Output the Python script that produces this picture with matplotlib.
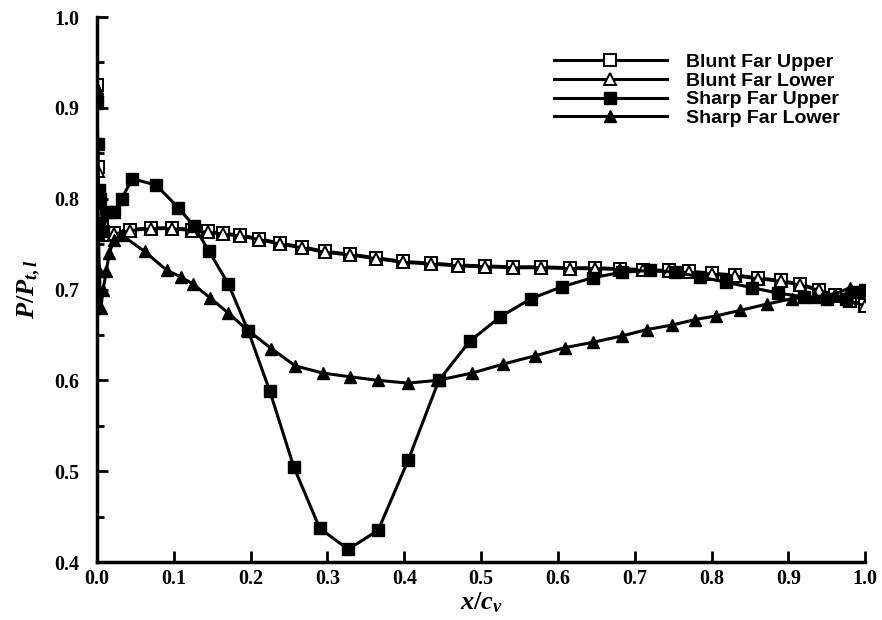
import matplotlib.pyplot as plt
from matplotlib.ticker import MultipleLocator

plt.rcParams["font.family"] = "Liberation Serif"
plt.rcParams["font.weight"] = "bold"
plt.rcParams["mathtext.fontset"] = "custom"
plt.rcParams["mathtext.it"] = "Liberation Serif:italic:bold"
plt.rcParams["mathtext.rm"] = "Liberation Serif:bold"

# blunt leading edge, far plane
blunt_upper_x = [0.0, 0.001, 0.003, 0.006, 0.012, 0.022, 0.043, 0.070, 0.097, 0.124,
                 0.145, 0.164, 0.186, 0.211, 0.238, 0.267, 0.297, 0.329, 0.363, 0.398,
                 0.435, 0.470, 0.505, 0.542, 0.578, 0.616, 0.648, 0.681, 0.711, 0.744,
                 0.770, 0.800, 0.830, 0.860, 0.890, 0.915, 0.940, 0.960, 0.980, 1.0]
blunt_upper_y = [0.925, 0.835, 0.790, 0.770, 0.762, 0.762, 0.766, 0.768, 0.768, 0.766,
                 0.764, 0.762, 0.760, 0.756, 0.751, 0.747, 0.742, 0.739, 0.735, 0.731,
                 0.729, 0.727, 0.726, 0.725, 0.725, 0.724, 0.724, 0.723, 0.722, 0.721,
                 0.720, 0.718, 0.716, 0.713, 0.710, 0.706, 0.700, 0.694, 0.688, 0.683]
blunt_lower_x = blunt_upper_x
blunt_lower_y = [0.920, 0.830, 0.785, 0.768, 0.760, 0.761, 0.765, 0.767, 0.767, 0.765,
                 0.763, 0.761, 0.759, 0.755, 0.750, 0.746, 0.741, 0.738, 0.734, 0.730,
                 0.728, 0.726, 0.725, 0.724, 0.724, 0.723, 0.723, 0.722, 0.721, 0.720,
                 0.719, 0.717, 0.715, 0.712, 0.709, 0.705, 0.699, 0.693, 0.687, 0.682]

# sharp leading edge, far plane
sharp_upper_x = [0.0, 0.001, 0.002, 0.004, 0.008, 0.014, 0.022, 0.032, 0.046, 0.077,
                 0.106, 0.126, 0.146, 0.171, 0.197, 0.225, 0.256, 0.290, 0.327, 0.366,
                 0.405, 0.445, 0.485, 0.525, 0.565, 0.605, 0.645, 0.683, 0.720, 0.753,
                 0.785, 0.819, 0.853, 0.887, 0.920, 0.950, 0.975, 0.990, 1.0]
sharp_upper_y = [0.905, 0.860, 0.810, 0.800, 0.765, 0.785, 0.785, 0.800, 0.822, 0.815,
                 0.790, 0.770, 0.742, 0.706, 0.654, 0.588, 0.505, 0.437, 0.414, 0.435,
                 0.512, 0.600, 0.643, 0.670, 0.690, 0.703, 0.713, 0.719, 0.721, 0.719,
                 0.714, 0.708, 0.702, 0.696, 0.692, 0.690, 0.690, 0.697, 0.700]
sharp_lower_x = [0.0, 0.0005, 0.001, 0.002, 0.003, 0.005, 0.008, 0.012, 0.016, 0.022,
                 0.032, 0.062, 0.091, 0.109, 0.125, 0.147, 0.171, 0.195, 0.227, 0.258,
                 0.294, 0.329, 0.366, 0.405, 0.443, 0.488, 0.529, 0.570, 0.609, 0.646,
                 0.684, 0.716, 0.749, 0.779, 0.806, 0.837, 0.872, 0.905, 0.935, 0.960,
                 0.980, 1.0]
sharp_lower_y = [0.922, 0.862, 0.800, 0.760, 0.720, 0.680, 0.700, 0.720, 0.740, 0.755,
                 0.760, 0.742, 0.721, 0.714, 0.706, 0.691, 0.674, 0.656, 0.635, 0.616,
                 0.608, 0.604, 0.600, 0.597, 0.600, 0.608, 0.618, 0.627, 0.636, 0.642,
                 0.649, 0.656, 0.661, 0.667, 0.671, 0.677, 0.684, 0.690, 0.692, 0.695,
                 0.702, 0.700]

fig = plt.figure(figsize=(8.82, 6.2), dpi=100)
ax = fig.add_axes([0.11, 0.0935, 0.871, 0.879])

lw = 2.2
ms = 8
ax.plot(blunt_upper_x, blunt_upper_y, "k-", lw=lw, marker="s", ms=ms,
        mfc="white", mec="black", mew=1.4, label="Blunt Far Upper")
ax.plot(blunt_lower_x, blunt_lower_y, "k-", lw=lw, marker="^", ms=ms,
        mfc="white", mec="black", mew=1.4, label="Blunt Far Lower")
ax.plot(sharp_upper_x, sharp_upper_y, "k-", lw=lw, marker="s", ms=ms,
        mfc="black", mec="black", label="Sharp Far Upper")
ax.plot(sharp_lower_x, sharp_lower_y, "k-", lw=lw, marker="^", ms=ms + 1,
        mfc="black", mec="black", label="Sharp Far Lower")

ax.set_xlim(0, 1.0)
ax.set_ylim(0.4, 1.0)
ax.xaxis.set_major_locator(MultipleLocator(0.1))
ax.yaxis.set_major_locator(MultipleLocator(0.1))
ax.yaxis.set_minor_locator(MultipleLocator(0.05))
ax.tick_params(which="both", direction="in", width=2.0, labelsize=14.5)
ax.tick_params(which="major", length=8)
ax.tick_params(which="minor", length=5)
ax.tick_params(axis="x", pad=5)
ax.tick_params(axis="y", pad=13)
ax.xaxis.set_major_formatter(plt.FormatStrFormatter("%.1f"))
ax.yaxis.set_major_formatter(plt.FormatStrFormatter("%.1f"))

for side in ["top", "right"]:
    ax.spines[side].set_visible(False)
for side in ["left", "bottom"]:
    ax.spines[side].set_linewidth(2.5)

ax.set_xlabel("$x/c_v$", fontsize=19, labelpad=1)
ax.set_ylabel("$P/P_{t,l}$", fontsize=19, labelpad=8)

leg = ax.legend(loc="upper right", bbox_to_anchor=(0.99, 0.965), frameon=False,
                handlelength=5.8, handletextpad=1.0, numpoints=1, labelspacing=0.05,
                prop={"family": "Liberation Sans", "weight": "bold", "size": 14})

fig.savefig("out.png", dpi=100)
